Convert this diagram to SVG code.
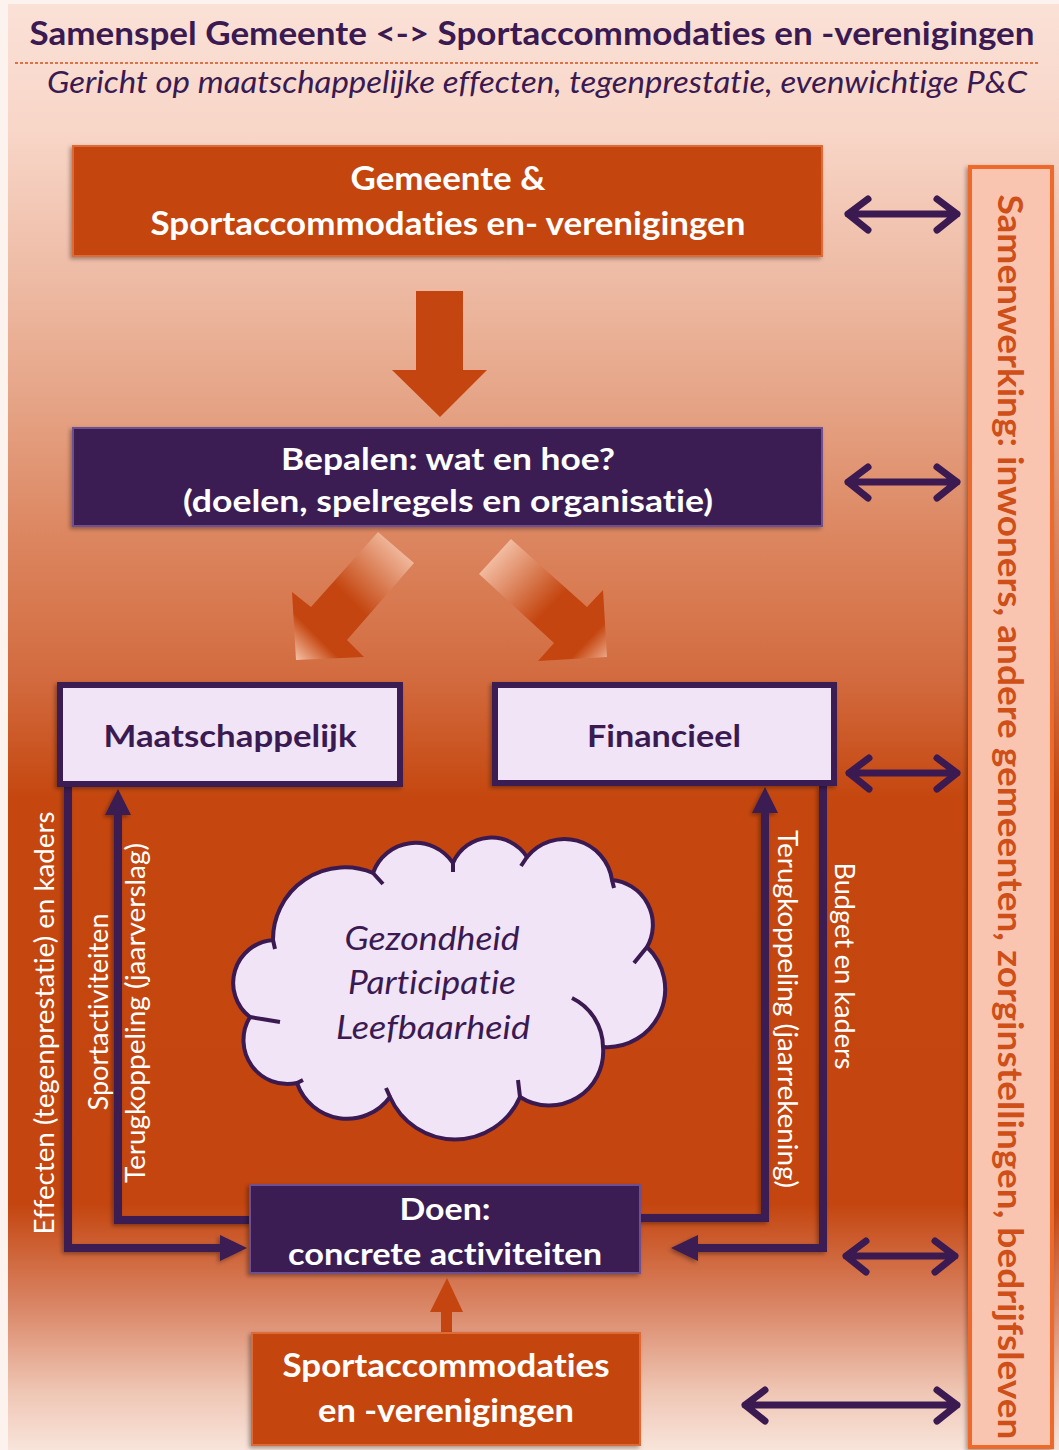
<svg xmlns="http://www.w3.org/2000/svg" width="1059" height="1450" viewBox="0 0 1059 1450">
<defs>
<linearGradient id="bg" x1="0" y1="0" x2="0" y2="1450" gradientUnits="userSpaceOnUse">
<stop offset="0" stop-color="#fbe1d7"/>
<stop offset="0.09" stop-color="#f8d6c8"/>
<stop offset="0.28" stop-color="#e5a385"/>
<stop offset="0.37" stop-color="#dc8660"/>
<stop offset="0.47" stop-color="#d26a3e"/>
<stop offset="0.55" stop-color="#c5470f"/>
<stop offset="0.83" stop-color="#c4450f"/>
<stop offset="0.90" stop-color="#d98565"/>
<stop offset="0.96" stop-color="#efc6b4"/>
<stop offset="1" stop-color="#f8e4da"/>
</linearGradient>
<linearGradient id="gl" x1="410" y1="545" x2="295" y2="660" gradientUnits="userSpaceOnUse">
<stop offset="0" stop-color="#f7c8b0"/>
<stop offset="0.5" stop-color="#c4450f"/>
<stop offset="0.8" stop-color="#c4450f"/>
<stop offset="1" stop-color="#f6c4aa"/>
</linearGradient>
<linearGradient id="gr" x1="490" y1="550" x2="610" y2="665" gradientUnits="userSpaceOnUse">
<stop offset="0" stop-color="#f7c8b0"/>
<stop offset="0.5" stop-color="#c4450f"/>
<stop offset="0.8" stop-color="#c4450f"/>
<stop offset="1" stop-color="#f6c4aa"/>
</linearGradient>
<filter id="sh" x="-10%" y="-10%" width="120%" height="130%">
<feDropShadow dx="-2" dy="2" stdDeviation="2" flood-color="#000" flood-opacity="0.35"/>
</filter>
<style>
text{font-variant-ligatures:none}
.orange{fill:#c4450f;stroke:#de6a38;stroke-width:2}
.purple{fill:#3b1a52;stroke:#6e4f8f;stroke-width:2}
.lav{fill:#f0e4f6;stroke:#3b1a52;stroke-width:6}
.wt{font-family:Lato,"Open Sans",sans-serif;font-weight:bold;fill:#ffffff;text-anchor:middle}
.pt{font-family:Lato,"Open Sans",sans-serif;font-weight:bold;fill:#3b1a52;text-anchor:middle}
.lbl{font-family:Lato,"Open Sans",sans-serif;fill:#ffffff;font-size:26px;text-anchor:middle}
.conn{fill:none;stroke:#3b1a52;stroke-width:8}
.head{fill:#3b1a52}
.dbl{fill:none;stroke:#3b1a52;stroke-width:7;stroke-linecap:round;stroke-linejoin:round}
.cloud{fill:#f0e4f6;stroke:#3b1a52;stroke-width:4;stroke-linejoin:round}
.tail{fill:none;stroke:#3b1a52;stroke-width:4;stroke-linecap:butt}
</style>
</defs>

<rect x="0" y="0" width="1059" height="1450" fill="#fdf3ee"/>
<rect x="8" y="4" width="1051" height="1446" fill="url(#bg)"/>

<g id="title">
<text x="532" y="45" font-family="Lato,'Open Sans',sans-serif" font-weight="bold" font-size="33" fill="#3b1a52" text-anchor="middle" textLength="1005" lengthAdjust="spacingAndGlyphs">Samenspel Gemeente &lt;-&gt; Sportaccommodaties en -verenigingen</text>
<line x1="15" y1="63" x2="1040" y2="63" stroke="#d0501a" stroke-width="1.5" stroke-dasharray="3 2"/>
<text x="537" y="93" font-family="Lato,'Open Sans',sans-serif" font-style="italic" font-size="31" fill="#3b1a52" text-anchor="middle" textLength="980" lengthAdjust="spacingAndGlyphs">Gericht op maatschappelijke effecten, tegenprestatie, evenwichtige P&amp;C</text>
</g>

<g id="connectors">
<polygon points="416,291 463,291 463,370 487,370 440,417 392,370 416,370" fill="#c4450f"/>
<polygon points="378,532 414,563 347,640 364,657 296,660 292,592 311,607" fill="url(#gl)"/>
<polygon points="511,539 587,607 603,590 607,657 538,661 554,643 479,574" fill="url(#gr)"/>
<g filter="url(#sh)">
<polyline class="conn" points="68,787 68,1248 222,1248"/>
<polygon class="head" points="220,1235 247,1248 220,1261"/>
<polyline class="conn" points="252,1220 118,1220 118,812"/>
<polygon class="head" points="105,815 118,789 131,815"/>
<polyline class="conn" points="638,1218 765,1218 765,810"/>
<polygon class="head" points="752,813 765,787 778,813"/>
<polyline class="conn" points="823,786 823,1248 696,1248"/>
<polygon class="head" points="698,1235 671,1248 698,1261"/>
</g>
<polygon points="441,1334 452,1334 452,1312 463,1312 447,1278 430,1312 441,1312" fill="#c4450f"/>
<path class="dbl" d="M848,214 H957 M868,199 L848,214 L868,230 M937,199 L957,214 L937,230"/>
<path class="dbl" d="M848,482 H957 M868,467 L848,482 L868,498 M937,467 L957,482 L937,498"/>
<path class="dbl" d="M849,773 H957 M869,758 L849,773 L869,789 M937,758 L957,773 L937,789"/>
<path class="dbl" d="M846,1256 H955 M866,1241 L846,1256 L866,1272 M935,1241 L955,1256 L935,1272"/>
<path class="dbl" d="M745,1405 H957 M765,1390 L745,1405 L765,1421 M937,1390 L957,1405 L937,1421"/>
<text class="lbl" transform="translate(54,1023) rotate(-90)" textLength="423" lengthAdjust="spacingAndGlyphs">Effecten (tegenprestatie) en kaders</text>
<text class="lbl" transform="translate(108,1012) rotate(-90)" textLength="197" lengthAdjust="spacingAndGlyphs">Sportactiviteiten</text>
<text class="lbl" transform="translate(145,1013) rotate(-90)" textLength="340" lengthAdjust="spacingAndGlyphs">Terugkoppeling (jaarverslag)</text>
<text class="lbl" transform="translate(778,1009) rotate(90)" textLength="358" lengthAdjust="spacingAndGlyphs">Terugkoppeling (jaarrekening)</text>
<text class="lbl" transform="translate(835,966) rotate(90)" textLength="207" lengthAdjust="spacingAndGlyphs">Budget en kaders</text>
</g>

<g id="gemeente">
<rect class="orange" x="73" y="146" width="749" height="110" filter="url(#sh)"/>
<text class="wt" x="448" y="190" font-size="32" textLength="195" lengthAdjust="spacingAndGlyphs">Gemeente &amp;</text>
<text class="wt" x="448" y="235" font-size="32" textLength="595" lengthAdjust="spacingAndGlyphs">Sportaccommodaties en- verenigingen</text>
</g>

<g id="bepalen">
<rect class="purple" x="73" y="428" width="749" height="98" filter="url(#sh)"/>
<text class="wt" x="448" y="470" font-size="31" textLength="334" lengthAdjust="spacingAndGlyphs">Bepalen: wat en hoe?</text>
<text class="wt" x="448" y="512" font-size="31" textLength="530" lengthAdjust="spacingAndGlyphs">(doelen, spelregels en organisatie)</text>
</g>

<g id="maatschappelijk">
<rect class="lav" x="60" y="685" width="340" height="99" filter="url(#sh)"/>
<text class="pt" x="230" y="747" font-size="31" textLength="253" lengthAdjust="spacingAndGlyphs">Maatschappelijk</text>
</g>

<g id="financieel">
<rect class="lav" x="495" y="685" width="339" height="98" filter="url(#sh)"/>
<text class="pt" x="664" y="747" font-size="31" textLength="154" lengthAdjust="spacingAndGlyphs">Financieel</text>
</g>

<g id="cloud">
<path class="cloud" d="M273,940 A72,72 0 0 1 373,873 A45,45 0 0 1 453,863 A42,42 0 0 1 527,857 A48,48 0 0 1 612,880 A45,45 0 0 1 647,947 A58,58 0 0 1 603,1047 A54,54 0 0 1 520,1097 A71,71 0 0 1 390,1097 A53,53 0 0 1 297,1083 A44,44 0 0 1 250,1017 A43,43 0 0 1 273,940 Z"/>
<path class="tail" d="M273,940 L275,949 M373,873 L383,884 M453,863 L453,872 M527,857 L521,866 M612,880 L614,888 M647,947 L634,963 M572,998 A55,55 0 0 1 603,1047 M520,1097 L518,1080 M297,1083 L303,1080 M250,1017 L280,1022 M390,1097 L386,1088"/>
<g font-family="Lato,'Open Sans',sans-serif" font-style="italic" font-size="32" fill="#3b1a52" text-anchor="middle">
<text x="432" y="950" textLength="175" lengthAdjust="spacingAndGlyphs">Gezondheid</text>
<text x="432" y="994" textLength="168" lengthAdjust="spacingAndGlyphs">Participatie</text>
<text x="433" y="1039" textLength="194" lengthAdjust="spacingAndGlyphs">Leefbaarheid</text>
</g>
</g>

<g id="doen">
<rect class="purple" x="250" y="1185" width="390" height="88" filter="url(#sh)"/>
<text class="wt" x="445" y="1220" font-size="31" textLength="91" lengthAdjust="spacingAndGlyphs">Doen:</text>
<text class="wt" x="445" y="1265" font-size="31" textLength="314" lengthAdjust="spacingAndGlyphs">concrete activiteiten</text>
</g>

<g id="sportaccommodaties">
<rect class="orange" x="252" y="1333" width="388" height="112" filter="url(#sh)"/>
<text class="wt" x="446" y="1377" font-size="32" textLength="327" lengthAdjust="spacingAndGlyphs">Sportaccommodaties</text>
<text class="wt" x="446" y="1422" font-size="32" textLength="256" lengthAdjust="spacingAndGlyphs">en -verenigingen</text>
</g>

<g id="samenwerking">
<rect x="970" y="167" width="82" height="1280" fill="#f9c5b0" stroke="#ee6a2c" stroke-width="4" filter="url(#sh)"/>
<text transform="translate(998,817) rotate(90)" font-family="Lato,'Open Sans',sans-serif" font-weight="bold" font-size="34" fill="#cf4f18" text-anchor="middle" textLength="1245" lengthAdjust="spacingAndGlyphs">Samenwerking: inwoners, andere gemeenten, zorginstellingen, bedrijfsleven</text>
</g>
</svg>
